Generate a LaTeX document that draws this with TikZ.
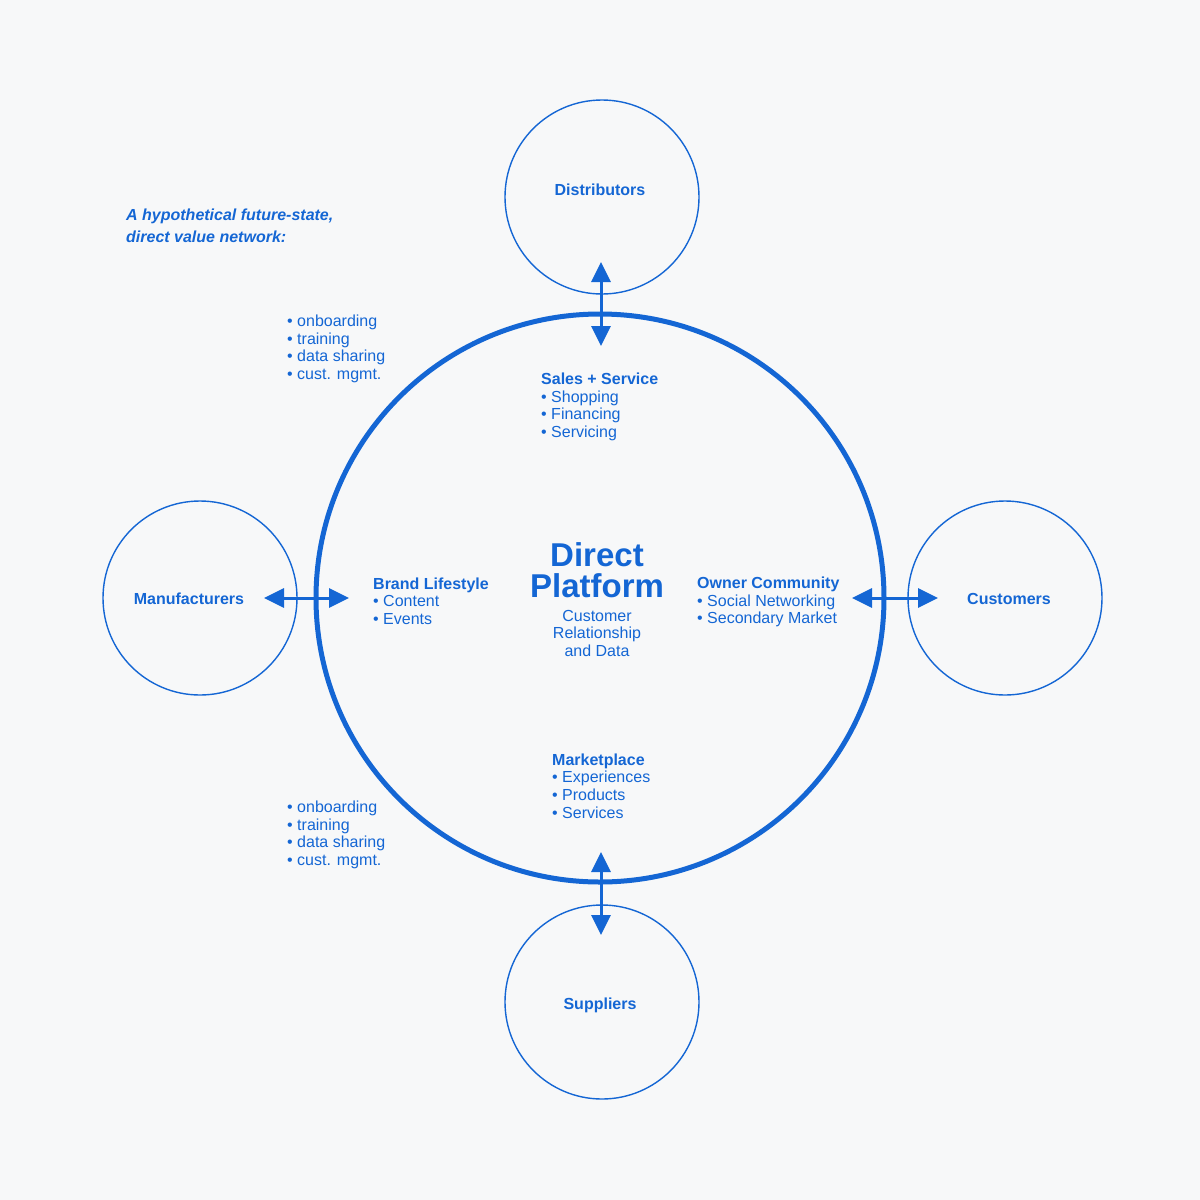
\documentclass[tikz,border=0pt]{standalone}
\usepackage{fontspec}
\setmainfont{Liberation Sans}
\usetikzlibrary{arrows.meta}
\definecolor{netblue}{HTML}{1466D4}
\definecolor{paper}{HTML}{F7F8F9}

\begin{document}
\begin{tikzpicture}[x=1pt,y=-1pt,
    partner/.style={circle,draw=netblue,line width=1.4pt,minimum size=194pt,inner sep=0pt},
    tag/.style={text=netblue,font=\fontsize{16}{18}\selectfont\bfseries,inner sep=0pt},
    items/.style={text=netblue,font=\fontsize{16}{17.7}\selectfont,align=left,inner sep=0pt,anchor=west},
    flow/.style={draw=netblue,line width=3pt,{Triangle[length=20pt,width=19pt]}-{Triangle[length=20pt,width=19pt]}}]
    \fill[paper] (0,0) rectangle (1200,1200);
    \useasboundingbox (0,0) rectangle (1200,1200);
    % platform and partners
    \node[circle,draw=netblue,line width=5pt,minimum size=568pt,inner sep=0pt] (hub) at (600,598) {};
    \node[partner] (dist) at (602,197) {};
    \node[partner] (manu) at (200,598) {};
    \node[partner] (cust) at (1005,598) {};
    \node[partner] (supp) at (602,1002) {};
    \node[tag] (distname) at (600,190) {Distributors};
    \node[tag] (manuname) at (189,599) {Manufacturers};
    \node[tag] (custname) at (1009,599) {Customers};
    \node[tag] (suppname) at (600,1005) {Suppliers};
    % title
    \node[items,font=\fontsize{16}{22}\selectfont\bfseries\itshape] (title) at (126,226)
        {A hypothetical future-state,\\direct value network:};
    % hub contents
    \node[text=netblue,font=\fontsize{33}{31}\selectfont\bfseries,align=center,inner sep=0pt] (core) at (597,570) {Direct\\Platform};
    \node[text=netblue,font=\fontsize{16}{17.5}\selectfont,align=center,inner sep=0pt] (coresub) at (597,633)
        {Customer\\Relationship\\and Data};
    \node[items] (sales) at (541,407) {\textbf{Sales + Service}\\• Shopping\\• Financing\\• Servicing};
    \node[items] (market) at (552,786) {\textbf{Marketplace}\\• Experiences\\• Products\\• Services};
    \node[items] (brand) at (373,601) {\textbf{Brand Lifestyle}\\• Content\\• Events};
    \node[items] (owner) at (697,602) {\textbf{Owner Community}\\• Social Networking\\• Secondary Market};
    \node[items] (upper) at (287,349) {• onboarding\\• training\\• data sharing\\• cust. mgmt.};
    \node[items] (lower) at (287,835) {• onboarding\\• training\\• data sharing\\• cust. mgmt.};
    % flows
    \coordinate (topA) at (601,262); \coordinate (topB) at (601,346);
    \coordinate (botA) at (601,852); \coordinate (botB) at (601,935);
    \coordinate (lefA) at (264,598); \coordinate (lefB) at (349,598);
    \coordinate (rigA) at (852,598); \coordinate (rigB) at (938,598);
    \draw[flow] (topA) -- (topB);
    \draw[flow] (botA) -- (botB);
    \draw[flow] (lefA) -- (lefB);
    \draw[flow] (rigA) -- (rigB);
\end{tikzpicture}
\end{document}
